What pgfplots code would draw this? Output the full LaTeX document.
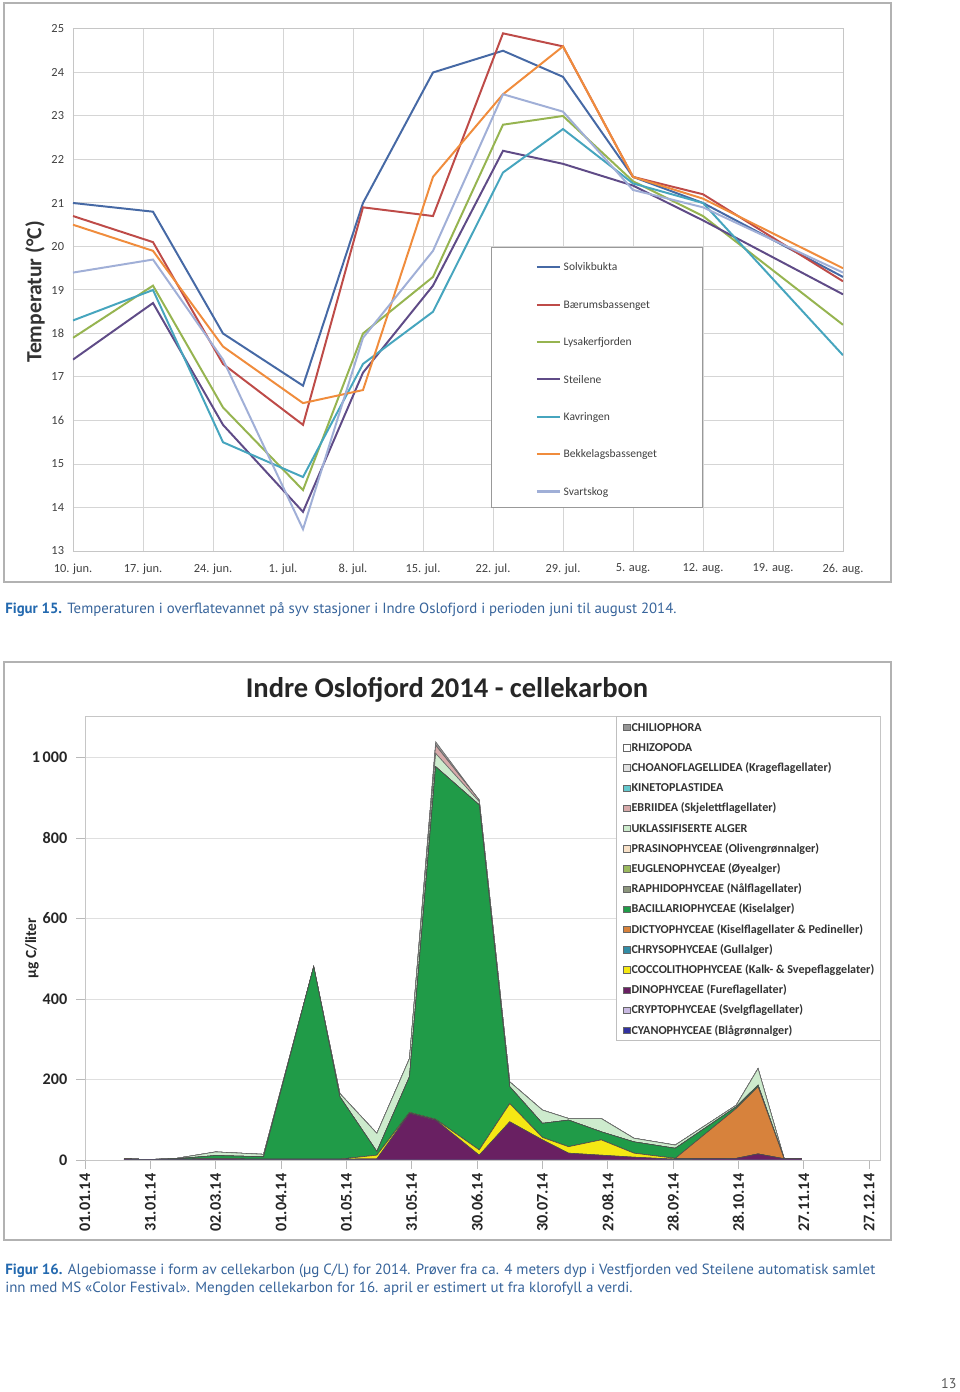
\documentclass[border=0pt]{standalone}
\usepackage{fontspec}
\setmainfont{Carlito}
\newfontfamily\capfont{PT Sans}
\usepackage{graphicx}
\usepackage{pgfplots}
\pgfplotsset{compat=1.18}
\usepackage{pgfplotstable}

\definecolor{cSolvik}{RGB}{70,105,165}
\definecolor{cBaerum}{RGB}{190,75,72}
\definecolor{cLysaker}{RGB}{150,180,80}
\definecolor{cSteilene}{RGB}{95,75,135}
\definecolor{cKavringen}{RGB}{70,165,190}
\definecolor{cBekkelag}{RGB}{240,140,60}
\definecolor{cSvartskog}{RGB}{160,175,215}

\definecolor{cCyano}{RGB}{50,50,160}
\definecolor{cCrypto}{RGB}{200,185,225}
\definecolor{cDino}{RGB}{105,32,98}
\definecolor{cCocco}{RGB}{245,232,20}
\definecolor{cChryso}{RGB}{50,140,165}
\definecolor{cDictyo}{RGB}{215,130,60}
\definecolor{cBacil}{RGB}{32,155,72}
\definecolor{cRaphido}{RGB}{140,150,125}
\definecolor{cEugleno}{RGB}{155,185,95}
\definecolor{cPrasino}{RGB}{248,225,200}
\definecolor{cUkl}{RGB}{205,235,205}
\definecolor{cEbri}{RGB}{215,170,170}
\definecolor{cKineto}{RGB}{100,200,205}
\definecolor{cChoano}{RGB}{225,225,225}
\definecolor{cRhizo}{RGB}{255,255,255}
\definecolor{cChilio}{RGB}{150,150,150}
\definecolor{capblue}{RGB}{35,105,175}
\definecolor{captext}{RGB}{55,100,155}

% day 0 = 10 June 2014
\pgfplotstableread{
day solvik baerum lysaker steilene kavringen bekkelag svartskog
0  21.0 20.7 17.9 17.4 18.3 20.5 19.4
8  20.8 20.1 19.1 18.7 19.0 19.9 19.7
15 18.0 17.3 16.3 15.9 15.5 17.7 17.4
23 16.8 15.9 14.4 13.9 14.7 16.4 13.5
29 21.0 20.9 18.0 17.1 17.3 16.7 17.9
36 24.0 20.7 19.3 19.1 18.5 21.6 19.9
43 24.5 24.9 22.8 22.2 21.7 23.5 23.5
49 23.9 24.6 23.0 21.9 22.7 24.6 23.1
56 21.6 21.6 21.5 21.4 21.45 21.6 21.3
63 21.0 21.2 20.7 20.6 21.0 21.1 20.9
77 19.3 19.2 18.2 18.9 17.5 19.5 19.4
}\temps

% day 0 = 01.01.14
\pgfplotstableread{
day cyano crypto dino cocco chryso dictyo bacil raphido eugleno prasino ukl ebri kineto choano rhizo chilio
18  0 0 3   0  0 0   0   0 0 0 0  0  0 0 0 0
29  0 0 1   0  0 0   0   0 0 0 0  0  0 0 0 0
42  0 0 2   0  0 0   1   0 0 0 1  0  0 0 0 0
60  0 0 3   0  0 0   8   0 0 0 9  0  0 0 0 0
82  0 0 2   0  0 0   6   0 0 0 6  0  0 0 0 0
105 0 0 2   0  0 0   478 0 0 0 0  0  0 0 0 0
117 0 0 2   0  0 0   155 0 0 0 8  0  0 0 0 0
134 0 0 3   9  0 0   9   0 0 0 45 0  0 0 0 0
149 0 0 116 2  0 0   89  0 0 0 45 0  0 0 0 0
161 0 0 99  2  0 0   876 0 0 0 33 20 0 0 0 9
181 0 0 12  13 0 0   857 0 0 0 8  4  0 0 0 0
195 0 0 95  45 0 0   42  0 0 0 12 0  0 0 0 0
210 0 0 50  6  0 0   35  0 0 0 33 0  0 0 0 0
222 0 0 17  16 0 0   66  0 0 0 4  0  0 0 0 0
237 0 0 12  38 0 0   20  0 0 0 33 0  0 0 0 0
252 0 0 7   10 0 0   28  0 0 0 9  0  0 0 0 0
271 0 0 2   2  0 0   25  0 0 0 8  0  0 0 0 0
299 0 0 4   0  0 124 4   0 0 0 4  0  0 0 0 0
309 0 0 15  0  0 167 4   0 0 0 41 0  0 0 0 0
321 0 0 3   0  0 0   0   0 0 0 0  0  0 0 0 0
329 0 0 4   0  0 0   0   0 0 0 0  0  0 0 0 0
}\cell

\begin{document}
\begin{tikzpicture}
\useasboundingbox (0,0) rectangle (24,34.8);
\fill[white] (0,0) rectangle (24,34.8);
\draw[gray!60, line width=0.9pt] (0.1,20.25) rectangle (22.275,34.725);
\draw[gray!60, line width=0.9pt] (0.1,3.8) rectangle (22.275,18.25);

% ---------------- Figure 15 ----------------
\begin{axis}[
  at={(1.825cm,21.025cm)}, anchor=south west,
  scale only axis, width=19.25cm, height=13.05cm,
  xmin=0, xmax=77, ymin=13, ymax=25,
  xtick={0,7,...,77},
  xticklabels={10. jun.,17. jun.,24. jun.,1. jul.,8. jul.,15. jul.,22. jul.,29. jul.,5. aug.,12. aug.,19. aug.,26. aug.},
  ytick={13,...,25},
  grid=major, grid style={gray!33, line width=0.7pt},
  axis line style={gray!45, line width=0.7pt},
  major tick length=0pt,
  tick label style={font=\fontsize{8.8}{10}\selectfont, text=black!75},
  xticklabel style={yshift=-0.2cm},
  yticklabel style={xshift=-0.1cm},
  /pgf/number format/assume math mode=true,
  legend style={at={(0.595,0.567)}, anchor=north west, draw=none, fill=none,
    font=\fontsize{8.2}{9}\selectfont, text=black!75, row sep=13.5pt,
    nodes={text height=1.5ex, text depth=0.4ex}},
  legend cell align=left,
  legend image code/.code={\draw[#1, line width=1.6pt] (0cm,0cm) -- (0.575cm,0cm);},
]
\draw[gray!80, fill=white, line width=0.7pt] (rel axis cs:0.544,0.0824) rectangle (rel axis cs:0.818,0.582);
\addplot[cSolvik, line width=1.4pt] table[x=day,y=solvik]{\temps};
\addlegendentry{Solvikbukta}
\addplot[cBaerum, line width=1.4pt] table[x=day,y=baerum]{\temps};
\addlegendentry{Bærumsbassenget}
\addplot[cLysaker, line width=1.4pt] table[x=day,y=lysaker]{\temps};
\addlegendentry{Lysakerfjorden}
\addplot[cSteilene, line width=1.4pt] table[x=day,y=steilene]{\temps};
\addlegendentry{Steilene}
\addplot[cKavringen, line width=1.4pt] table[x=day,y=kavringen]{\temps};
\addlegendentry{Kavringen}
\addplot[cBekkelag, line width=1.4pt] table[x=day,y=bekkelag]{\temps};
\addlegendentry{Bekkelagsbassenget}
\addplot[cSvartskog, line width=1.4pt] table[x=day,y=svartskog]{\temps};
\addlegendentry{Svartskog}
\end{axis}
\node[rotate=90, font=\fontsize{15.4}{17}\selectfont\bfseries, text=black!80] at (0.875,27.5) {Temperatur (°C)};

\node[anchor=west, inner sep=0pt] at (0.125,19.55) {\resizebox{16.78cm}{\height}{\capfont\fontsize{10.5}{12}\selectfont\color{captext}\textcolor{capblue}{\bfseries Figur 15.} Temperaturen i overflatevannet på syv stasjoner i Indre Oslofjord i perioden juni til august 2014.}};

% ---------------- Figure 16 ----------------
\node[font=\fontsize{20.3}{24}\selectfont\bfseries, text=black!85] at (11.175,17.55) {Indre Oslofjord 2014 - cellekarbon};

\begin{axis}[
  at={(2.125cm,5.8cm)}, anchor=south west,
  scale only axis, width=19.875cm, height=11.1cm,
  xmin=0, xmax=365, ymin=0, ymax=1103,
  stack plots=y,
  xtick={0,30,...,360},
  xticklabels={01.01.14,31.01.14,02.03.14,01.04.14,01.05.14,31.05.14,30.06.14,30.07.14,29.08.14,28.09.14,28.10.14,27.11.14,27.12.14},
  ytick={0,200,...,1000},
  yticklabels={0,200,400,600,800,1\,000},
  xtick pos=bottom, ytick pos=left,
  ymajorgrids, grid style={gray!25, line width=0.6pt},
  axis line style={gray!45, line width=0.6pt},
  tick align=outside, tick style={gray!55, line width=0.6pt}, major tick length=0.22cm,
  xticklabel style={rotate=90, anchor=east, font=\fontsize{11.5}{13}\selectfont\bfseries, text=black!85},
  yticklabel style={xshift=-0.1cm, font=\fontsize{11.5}{13}\selectfont\bfseries, text=black!85},
  legend style={at={(0.671,0.999)}, anchor=north west, draw=none, fill=none,
    font=\fontsize{8.6}{9}\selectfont\bfseries, text=black!80, row sep=3.3pt,
    nodes={text height=1.5ex, text depth=0.4ex, inner sep=1pt}},
  legend cell align=left,
  reverse legend,
  legend image code/.code={\draw[#1, line width=0.3pt, draw=black!60] (0cm,-0.08cm) rectangle (0.17cm,0.08cm);},
]
\draw[gray!50, fill=white, line width=0.6pt] (rel axis cs:0.669,0.27) rectangle (rel axis cs:1,1);
\addplot[fill=cCyano, draw=black!70, line width=0.4pt] table[x=day,y=cyano]{\cell} \closedcycle;
\addlegendentry{CYANOPHYCEAE (Blågrønnalger)}
\addplot[fill=cCrypto, draw=black!70, line width=0.4pt] table[x=day,y=crypto]{\cell} \closedcycle;
\addlegendentry{CRYPTOPHYCEAE (Svelgflagellater)}
\addplot[fill=cDino, draw=black!70, line width=0.4pt] table[x=day,y=dino]{\cell} \closedcycle;
\addlegendentry{DINOPHYCEAE (Fureflagellater)}
\addplot[fill=cCocco, draw=black!70, line width=0.4pt] table[x=day,y=cocco]{\cell} \closedcycle;
\addlegendentry{COCCOLITHOPHYCEAE (Kalk- \& Svepeflaggelater)}
\addplot[fill=cChryso, draw=black!70, line width=0.4pt] table[x=day,y=chryso]{\cell} \closedcycle;
\addlegendentry{CHRYSOPHYCEAE (Gullalger)}
\addplot[fill=cDictyo, draw=black!70, line width=0.4pt] table[x=day,y=dictyo]{\cell} \closedcycle;
\addlegendentry{DICTYOPHYCEAE (Kiselflagellater \& Pedineller)}
\addplot[fill=cBacil, draw=black!70, line width=0.4pt] table[x=day,y=bacil]{\cell} \closedcycle;
\addlegendentry{BACILLARIOPHYCEAE (Kiselalger)}
\addplot[fill=cRaphido, draw=black!70, line width=0.4pt] table[x=day,y=raphido]{\cell} \closedcycle;
\addlegendentry{RAPHIDOPHYCEAE (Nålflagellater)}
\addplot[fill=cEugleno, draw=black!70, line width=0.4pt] table[x=day,y=eugleno]{\cell} \closedcycle;
\addlegendentry{EUGLENOPHYCEAE (Øyealger)}
\addplot[fill=cPrasino, draw=black!70, line width=0.4pt] table[x=day,y=prasino]{\cell} \closedcycle;
\addlegendentry{PRASINOPHYCEAE (Olivengrønnalger)}
\addplot[fill=cUkl, draw=black!60, line width=0.4pt] table[x=day,y=ukl]{\cell} \closedcycle;
\addlegendentry{UKLASSIFISERTE ALGER}
\addplot[fill=cEbri, draw=black!60, line width=0.4pt] table[x=day,y=ebri]{\cell} \closedcycle;
\addlegendentry{EBRIIDEA (Skjelettflagellater)}
\addplot[fill=cKineto, draw=black!60, line width=0.4pt] table[x=day,y=kineto]{\cell} \closedcycle;
\addlegendentry{KINETOPLASTIDEA}
\addplot[fill=cChoano, draw=black!60, line width=0.4pt] table[x=day,y=choano]{\cell} \closedcycle;
\addlegendentry{CHOANOFLAGELLIDEA (Krageflagellater)}
\addplot[fill=cRhizo, draw=black!60, line width=0.4pt] table[x=day,y=rhizo]{\cell} \closedcycle;
\addlegendentry{RHIZOPODA}
\addplot[fill=cChilio, draw=black!60, line width=0.4pt] table[x=day,y=chilio]{\cell} \closedcycle;
\addlegendentry{CHILIOPHORA}
\end{axis}
\node[rotate=90, font=\fontsize{11}{13}\selectfont\bfseries, text=black!85] at (0.8,11.1) {µg C/liter};

\node[anchor=west, inner sep=0pt] at (0.125,3.025) {\resizebox{21.75cm}{\height}{\capfont\fontsize{10.5}{12}\selectfont\color{captext}\textcolor{capblue}{\bfseries Figur 16.} Algebiomasse i form av cellekarbon (µg C/L) for 2014. Prøver fra ca. 4 meters dyp i Vestfjorden ved Steilene automatisk samlet}};
\node[anchor=west, inner sep=0pt] at (0.125,2.575) {\resizebox{15.68cm}{\height}{\capfont\fontsize{10.5}{12}\selectfont\color{captext}inn med MS «Color Festival». Mengden cellekarbon for 16. april er estimert ut fra klorofyll a verdi.}};

\node[text=black!65, font=\capfont\fontsize{10}{12}\selectfont] at (23.72,0.2) {13};
\end{tikzpicture}
\end{document}
